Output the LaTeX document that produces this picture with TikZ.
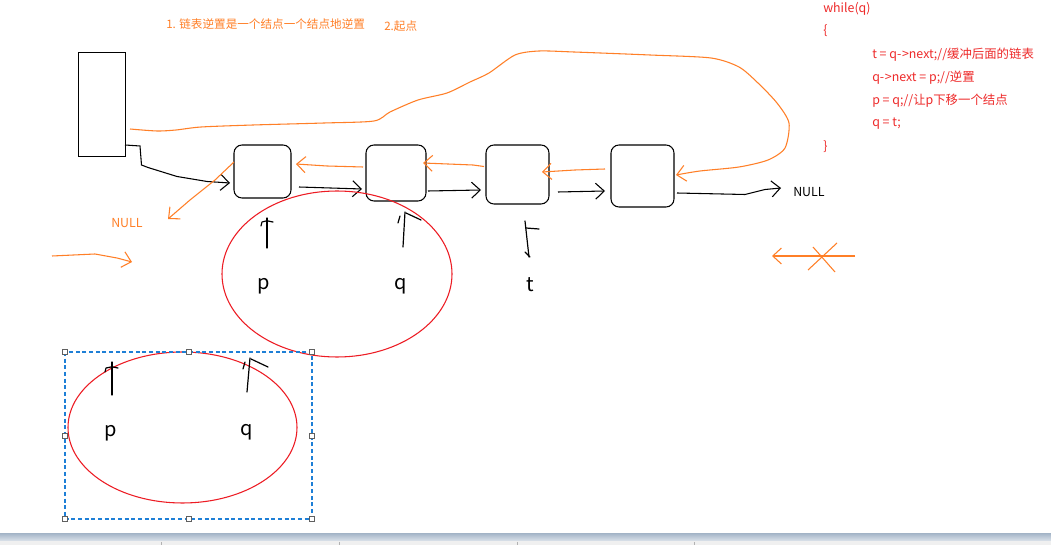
\documentclass[tikz,border=0pt]{standalone}
\usepackage{fontspec}
\setmainfont{Noto Sans CJK SC}
\usetikzlibrary{arrows.meta,calc,shapes.geometric}
\definecolor{paintorange}{HTML}{FF7F27}
\definecolor{paintred}{HTML}{ED1C24}
\definecolor{codered}{HTML}{EE2A2A}
\definecolor{selblue}{HTML}{1E7FD6}
\definecolor{handlegray}{HTML}{606060}
\definecolor{barTop}{HTML}{A9B9CB}
\definecolor{barBot}{HTML}{DCE3EB}
\definecolor{barGray}{HTML}{F0F0F0}
\begin{document}
\begin{tikzpicture}[x=0.75pt,y=-0.75pt,
  box/.style={draw=black,line width=0.8pt,rounded corners=6pt,inner sep=0pt,outer sep=0pt},
  blk/.style={draw=black,line width=0.8pt},
  org/.style={draw=paintorange,line width=0.8pt},
  hand/.style={draw=black,line width=0.9pt,line cap=round,line join=round},
  barb/.style={-{Straight Barb[length=6.5pt,width=12pt]}},
  codetxt/.style={text=codered,font=\fontsize{9.3}{11}\selectfont,anchor=west,inner sep=0pt},
  notetxt/.style={text=paintorange,font=\fontsize{8.7}{10}\selectfont,anchor=west,inner sep=0pt},
  letter/.style={text=black,font=\fontsize{15}{15}\selectfont,inner sep=0pt},
  handlebox/.style={draw=handlegray,fill=white,line width=0.6pt,minimum size=3.5pt,inner sep=0pt}
]
\useasboundingbox (0,0) rectangle (1051,545);
\fill[white] (0,0) rectangle (1051,545);

% status bar
\shade[top color=barTop,bottom color=barBot] (0,534) rectangle (1051,541);
\fill[barGray] (0,541) rectangle (1051,545);
\foreach \sx in {161,339,517,694} \draw[draw=gray!60,line width=0.5pt] (\sx,542) -- (\sx,545);

% head and list nodes
\node[draw=black,line width=0.75pt,inner sep=0pt,outer sep=0pt,minimum width=35.25pt,minimum height=78pt] (head) at (101.5,105) {};
\node[box,minimum width=42.75pt,minimum height=39.75pt] (n1) at (262.5,171.5) {};
\node[box,minimum width=45pt,minimum height=42pt] (n2) at (396,173) {};
\node[box,minimum width=47.25pt,minimum height=44.25pt] (n3) at (517.5,174.5) {};
\node[box,minimum width=47.25pt,minimum height=46.5pt] (n4) at (642.5,176) {};

% texts
\node[notetxt] (note1) at (166,24) {1. 链表逆置是一个结点一个结点地逆置};
\node[notetxt] (note2) at (384,26) {2.起点};
\node[text=black,font=\fontsize{9.3}{11}\selectfont,anchor=west,inner sep=0pt] (nullb) at (793,192) {NULL};
\node[text=paintorange,font=\fontsize{9.3}{11}\selectfont,anchor=west,inner sep=0pt] (nullo) at (111,223) {NULL};

\node[codetxt] (c1) at (823,9) {while(q)};
\node[codetxt] (c2) at (823,31) {\{};
\node[codetxt] (c3) at (872,55) {t = q-\kern0.5pt>next;//缓冲后面的链表};
\node[codetxt] (c4) at (872,78) {q-\kern0.5pt>next = p;//逆置};
\node[codetxt] (c5) at (872,101) {p = q;//让p下移一个结点};
\node[codetxt] (c6) at (872,124) {q = t;};
\node[codetxt] (c7) at (823,147) {\}};

% black pointers
\coordinate (h1) at (140,146);
\coordinate (h2) at (141.5,165);
\coordinate (h3) at (148,167.5);
\coordinate (h4) at (177,176.5);
\coordinate (h5) at (207,181.5);
\draw[blk,barb] ($(head.south east)+(0,-12)$) -- (h1) -- (h2) -- (h3) -- (h4) -- (h5) -- ($(n1.south west)+(-4,-15)$);
\draw[blk,barb] ($(n1.east)+(8,15.5)$) -- ($(n2.west)+(-4,16)$);
\draw[blk,barb] ($(n2.east)+(2,18)$) -- ($(n3.west)+(-5,15.5)$);
\draw[blk,barb] ($(n3.east)+(9,17.5)$) -- ($(n4.west)+(-6,15)$);
\coordinate (nl1) at (745,194.5);
\draw[blk,barb] ($(n4.east)+(3,17)$) -- (nl1) -- (765,189.5) -- ($(nullb.west)+(-12,-4)$);

% orange reversed pointers
\coordinate (o1a) at (215,180);
\coordinate (o1b) at (190,200);
\coordinate (o1end) at (168,219);
\draw[org,barb] ($(n1.west)+(0,-9.5)$) -- (o1a) -- (o1b) -- (o1end);
\coordinate (o2a) at (327,166);
\draw[org,barb] ($(n2.west)+(-3,-6)$) -- (o2a) -- ($(n1.east)+(5,-7.5)$);
\coordinate (o3a) at (473,165);
\draw[org,barb] ($(n3.west)+(-2,-8)$) -- (o3a) -- ($(n2.east)+(-3,-10)$);
\coordinate (o4a) at (575,170);
\draw[org,barb] ($(n4.west)+(-6,-7)$) -- (o4a) -- ($(n3.east)+(-7,-2.5)$);

% long orange curve from head to last node
\coordinate (cs) at ($(head.north east)+(5,76)$);
\coordinate (ce) at ($(n4.east)+(2,-1)$);
\draw[org,barb] plot[smooth,tension=0.45] coordinates {(cs) (157,131) (176,130) (201,127) (253,125) (324,123) (374,121) (390,112) (418,100) (447,93) (470,82) (489,73) (515,55) (539,51) (574,52) (650,55) (711,58) (739,67) (758,83) (777,103) (789,123) (785,148) (768,160) (739,167) (700,171) (ce)};

% left orange arrow
\coordinate (la0) at (52,256);
\coordinate (la1) at (95,254);
\coordinate (la2) at (117,258);
\coordinate (la3) at (132,262);
\draw[org,barb] (la0) -- (la1) -- (la2) -- (la3);

% crossed arrow on the right
\coordinate (ra0) at (855,256);
\coordinate (ra1) at (772,256);
\draw[org,barb] (ra0) -- (ra1);
\coordinate (x1a) at (813,247);
\coordinate (x1b) at (835,272);
\coordinate (x2a) at (837,243);
\coordinate (x2b) at (808,270);
\draw[org] (x1a) -- (x1b);
\draw[org] (x2a) -- (x2b);

% red ellipses
\node[ellipse,draw=paintred,line width=0.8pt,inner sep=0pt,minimum width=172.5pt,minimum height=124.5pt] (e1) at (337,274) {};
\node[ellipse,draw=paintred,line width=0.8pt,inner sep=0pt,minimum width=171.75pt,minimum height=113.25pt] (e2) at (182.5,427.5) {};

% selection box
\coordinate (s1) at (65,352);
\coordinate (s2) at (312,519);
\draw[draw=selblue,line width=0.8pt,dash pattern=on 3pt off 2pt] (s1) rectangle (s2);
\foreach \hx/\hy [count=\i] in {65/352,189/352,312/352,65/436,312/436,65/519,189/519,312/519}
  \node[handlebox] (hd\i) at (\hx,\hy) {};

% handwritten arrows and letters, first ellipse
\draw[hand] (267,218) -- (267,248);
\draw[hand] (261,226) -- (262,222) -- (266,221);
\draw[hand] (268,221) -- (273,222);
\node[letter] (lp1) at (264,286) {p};
\draw[hand] (405,212) -- (403,247);
\draw[hand] (398,223) -- (400,216);
\draw[hand] (406,213) -- (421,220);
\node[letter] (lq1) at (401,286) {q};
% t below third node
\draw[hand] (525,221) -- (529,257);
\draw[hand] (526,228) -- (539,229);
\draw[hand] (525,252) -- (530,257);
\node[letter] (lt) at (530,285) {t};

% second ellipse
\draw[hand] (112,362) -- (112,395);
\draw[hand] (105,372) -- (106,368) -- (111,367);
\draw[hand] (113,367) -- (118,368);
\node[letter] (lp2) at (111,433) {p};
\draw[hand] (250,358) -- (247,392);
\draw[hand] (243,369) -- (245,362);
\draw[hand] (251,359) -- (268,367);
\node[letter] (lq2) at (247,432) {q};
\end{tikzpicture}
\end{document}
